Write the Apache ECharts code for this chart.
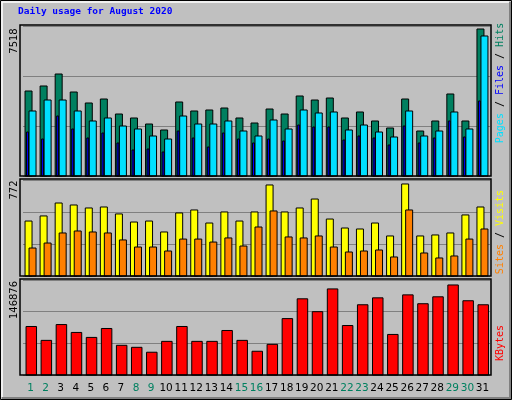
<!DOCTYPE html>
<html><head><meta charset="utf-8">
<script src="https://cdn.jsdelivr.net/npm/echarts@6/dist/echarts.min.js"></script>
<style>html,body{margin:0;padding:0;background:#c0c0c0}#c{width:512px;height:400px}</style>
</head><body><div id="c"></div>
<script>
const days = Array.from({length:31},(_,i)=>String(i+1));
const weekendDays = ['1','2','8','9','15','16','22','23','29','30'];
const hits  = [4260,4511,5112,4210,3659,3859,3107,2907,2606,2306,3709,3258,3308,3408,2907,2656,3358,3107,4010,3809,3909,2907,3208,2757,2406,3859,2255,2757,4110,2757,7368];
const files = [3258,3809,3809,3258,2757,2907,2506,2356,2005,1854,3007,2606,2606,2757,2255,2005,2807,2356,3308,3158,3208,2306,2556,2205,1955,3258,2005,2255,3208,2356,7017];
const pages = [2205,1854,3007,2356,1905,2155,1654,1303,1353,1203,2255,1905,1453,2155,1854,1654,1854,1754,2556,2456,2456,1804,2005,1905,1554,2506,1654,1905,2757,1955,3759];
const visits= [442,483,587,571,547,555,499,434,442,354,507,531,426,515,442,515,732,515,547,619,458,386,378,426,322,740,322,330,346,491,555];
const sites = [225,265,346,362,354,346,290,233,233,201,297,297,273,306,241,394,523,314,306,322,233,193,201,209,153,531,185,145,161,297,378];
const kbytes= [75000,53550,78000,65800,58100,71900,45900,42800,35200,52000,75000,52000,52000,68800,53550,36700,47400,87200,117800,97900,133100,76500,108600,119300,62700,123900,110200,120900,139200,114800,108600];
const axisMax = [7518, 772, 146876];

const chart = echarts.init(document.getElementById('c'));
function barSeries(data, idx, x0, x1, color, z){
  return {type:'custom', xAxisIndex:idx, yAxisIndex:idx, z:z, data:data.map((v,i)=>[i,v]),
    renderItem:(params, api)=>{
      const top = api.coord([api.value(0), api.value(1)]);
      const bot = api.coord([api.value(0), 0]);
      return {type:'rect', shape:{x:top[0]+x0, y:top[1], width:x1-x0, height:bot[1]-top[1]},
        style:{fill:color, stroke:'#000', lineWidth:1}};
    }};
}
const grids = [{top:26,height:150},{top:180,height:96},{top:280,height:95}];
const frames = grids.map(g=>({type:'rect', shape:{x:20,y:g.top-1,width:471,height:g.height+1}, style:{fill:null, stroke:'#000', lineWidth:1.5}, z:100}));
const mono = '"DejaVu Sans Mono", monospace';
function vlabel(cx, cy, rich, text){
  return {type:'text', x:cx, y:cy, rotation:Math.PI/2, z:100,
    style:{text:text, rich:rich, align:'center', verticalAlign:'middle', font:'10px '+mono}};
}
chart.setOption({
  animation:false,
  backgroundColor:'#c0c0c0',
  grid: grids.map(g=>({left:23,right:22,top:g.top,height:g.height})),
  xAxis: grids.map((g,i)=>({type:'category', gridIndex:i, data:days,
    axisLine:{show:false}, axisTick:{show:false},
    axisLabel:{show:i===2, margin:8, fontSize:10.5, fontFamily:'"DejaVu Sans"', interval:0,
      color:(v)=>weekendDays.includes(v)?'#008060':'#000'}})),
  yAxis: axisMax.map((m,i)=>({type:'value', gridIndex:i, min:0, max:m, interval:m/3,
    axisLabel:{show:false}, axisLine:{show:false}, axisTick:{show:false},
    splitLine:{show:true, lineStyle:{color:'#808080', width:1}}})),
  series:[
    barSeries(hits,0,-5.5,1.5,'#008060',2),
    barSeries(pages,0,-4,-2,'#0000ff',3),
    barSeries(files,0,-1.5,5.5,'#00e0ff',4),
    barSeries(visits,1,-5.5,1.5,'#ffff00',2),
    barSeries(sites,1,-1.5,5.5,'#ff8000',3),
    barSeries(kbytes,2,-4.5,6,'#ff0000',2)
  ],
  graphic:[
    {type:'rect', shape:{x:0.5,y:0.5,width:511,height:399}, style:{fill:null, stroke:'#000', lineWidth:1}, z:100},
    {type:'polyline', shape:{points:[[2,398],[510,398],[510,2]]}, style:{fill:null, stroke:'#808080', lineWidth:2}, z:100},
    {type:'polyline', shape:{points:[[2,397],[2,2],[509,2]]}, style:{fill:null, stroke:'#ffffff', lineWidth:1.5}, z:100},
    {type:'text', x:18, y:7, z:100, style:{text:'Daily usage for August 2020', font:'bold 9.5px '+mono, fill:'#0000ff'}},
    ...frames,
    {type:'text', x:14, y:41, rotation:Math.PI/2, z:100, style:{text:String(axisMax[0]), align:'center', verticalAlign:'middle', font:'10px "DejaVu Sans"', fill:'#000'}},
    {type:'text', x:14, y:190, rotation:Math.PI/2, z:100, style:{text:String(axisMax[1]), align:'center', verticalAlign:'middle', font:'10px "DejaVu Sans"', fill:'#000'}},
    {type:'text', x:14, y:300, rotation:Math.PI/2, z:100, style:{text:String(axisMax[2]), align:'center', verticalAlign:'middle', font:'10px "DejaVu Sans"', fill:'#000'}},
    vlabel(500, 83, {p:{fill:'#00e0ff',font:'10px '+mono},f:{fill:'#0000ff',font:'10px '+mono},h:{fill:'#008060',font:'10px '+mono},s:{fill:'#000',font:'10px '+mono}}, '{p|Pages}{s| / }{f|Files}{s| / }{h|Hits}'),
    vlabel(500, 232, {a:{fill:'#ff8000',font:'10px '+mono},b:{fill:'#ffff00',font:'10px '+mono},s:{fill:'#000',font:'10px '+mono}}, '{a|Sites}{s| / }{b|Visits}'),
    vlabel(500, 343, {k:{fill:'#ff0000',font:'10px '+mono}}, '{k|KBytes}')
  ]
});
</script></body></html>
